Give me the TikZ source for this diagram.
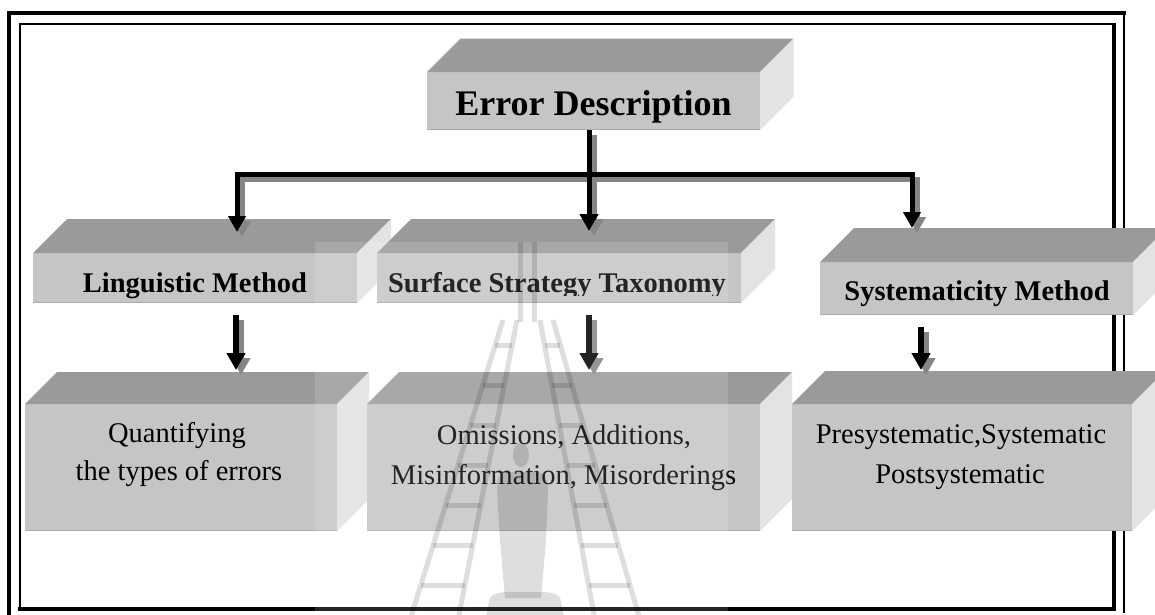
\documentclass[tikz,border=0pt]{standalone}
\usepackage{fontspec}
\setmainfont{Liberation Serif}
\usetikzlibrary{arrows.meta,calc}
\definecolor{topface}{HTML}{9A9A9A}
\definecolor{frontface}{HTML}{C5C5C5}
\definecolor{sideface}{HTML}{E3E3E3}
\definecolor{rimline}{HTML}{ABABAB}
\definecolor{shadowgray}{HTML}{858585}
\tikzset{
  front/.style={fill=frontface, draw=none, inner sep=0pt, outer sep=0pt},
  head/.style={font=\bfseries\fontsize{28.5}{30}\selectfont, anchor=base, inner sep=0pt},
  body/.style={font=\fontsize{28.5}{30}\selectfont, anchor=base, inner sep=0pt, text=black},
  link/.style={line width=5pt, black, line join=miter},
  linkshadow/.style={line width=5pt, shadowgray, line join=miter, transform canvas={shift={(5pt,-5pt)}}},
  tiptop/.style={{Triangle[width=17pt,length=16pt]}-{Triangle[width=17pt,length=16pt]}},
  tipone/.style={-{Triangle[width=18pt,length=17pt]}},
  sealmark/.style={black, opacity=0.13}
}
% a bevelled block: name, centre x, centre y, front width, front height, depth
\newcommand\blockthree[6]{%
  \node[front, minimum width=#4pt, minimum height=#5pt] (#1) at (#2,#3) {};
  \fill[topface] (#1.north west) -- ([shift={(#6,-#6)}]#1.north west)
    -- ([shift={(#6,-#6)}]#1.north east) -- (#1.north east) -- cycle;
  \fill[sideface] (#1.north east) -- ([shift={(#6,-#6)}]#1.north east)
    -- ([shift={(#6,-#6)}]#1.south east) -- (#1.south east) -- cycle;
  \draw[rimline, line width=1.5pt] ([yshift=0.75pt]#1.south west) -- ([yshift=0.75pt]#1.south east);
}
\begin{document}
\begin{tikzpicture}[x=1pt,y=-1pt]
\useasboundingbox (0,0) rectangle (1155,614);
\clip (0,0) rectangle (1155,614);
\fill[white] (0,0) rectangle (1155,614);

% double page frame
\draw[line width=4pt] (9,616) -- (9,13) -- (1126,13);
\draw[line width=2pt] (1124,13) -- (1124,613);
\draw[line width=2pt] (20,609) -- (20,24) -- (1116,24);
\draw[line width=4pt] (1114,24) -- (1114,609) -- (18,609);

% blocks
\blockthree{err}{593.5}{101}{333}{58}{33.5}
\node[head, font=\bfseries\fontsize{36}{38}\selectfont] (errT) at (593.5,115) {Error Description};

\blockthree{ling}{195}{278}{324}{50}{34}
\blockthree{surf}{559}{278}{364}{50}{34}
\blockthree{syst}{976.5}{288.5}{313}{53}{34}

\node[head] (lingT) at (195,292) {Linguistic Method};
\begin{scope}
  \clip (surf.north west) rectangle ([yshift=8pt]surf.south east);
  \node[head] (surfT) at (557,292) {Surface Strategy Taxonomy};
\end{scope}
\node[head] (systT) at (977,300) {Systematicity Method};

\blockthree{quant}{181}{467.5}{312}{127}{32}
\blockthree{omis}{563.5}{467.5}{393}{127}{32}
\blockthree{presys}{962}{467.5}{340}{127}{33}

\node[body] (quant1) at (177,442) {Quantifying};
\node[body] (quant2) at (179,480) {the types of errors};
\node[body] (omis1) at (564,444) {Omissions, Additions,};
\node[body] (omis2) at (563.5,484) {Misinformation, Misorderings};
\node[body] (presys1) at (961,443) {Presystematic,Systematic};
\node[body] (presys2) at (960,483) {Postsystematic};

% branch connectors
\coordinate (hub) at (589,174);
\coordinate (bl) at (237,174);
\coordinate (br) at (912,174);
\draw[linkshadow] (hub |- err.south) -- (hub);
\draw[linkshadow, tiptop] (237,232) -- (bl) -- (br) -- (912,228);
\draw[linkshadow, tipone] (hub) -- (589,231);
\draw[link] (hub |- err.south) -- (hub);
\draw[link, tiptop] (237,232) -- (bl) -- (br) -- (912,228);
\draw[link, tipone] (hub) -- (589,231);

\foreach \a/\b/\dx/\ex in {ling/quant/41/55, surf/omis/30/25.5, syst/presys/-55.5/-41}{
  \draw[linkshadow, line width=6pt, tipone] ([xshift=\dx pt,yshift=-12pt]\a.south) -- ([xshift=\ex pt,yshift=34pt]\b.north);
  \draw[link, line width=6pt, tipone] ([xshift=\dx pt,yshift=-12pt]\a.south) -- ([xshift=\ex pt,yshift=34pt]\b.north);
}

% faint seal in the background
\fill[white, opacity=0.14] (315,242) rectangle (728,614);
\draw[sealmark, line width=5pt] (520,242) -- (520,322) (534,242) -- (534,322);
\draw[sealmark, line width=5pt]
  (503,320) -- (410,620) (517,320) -- (458,620)
  (540,320) -- (595,620) (553,320) -- (640,620);
\draw[sealmark, line width=5pt]
  \foreach \y in {345,385,425,465,505,545,585}{
    ({503-(\y-320)*0.31},\y) -- ({517-(\y-320)*0.197},\y)
    ({540+(\y-320)*0.183},\y) -- ({553+(\y-320)*0.29},\y)
  };
\fill[sealmark] (521,455) ellipse (8 and 12);
\fill[sealmark] (506,472) -- (537,472) to[out=0,in=90] (548,490) -- (546,540)
  -- (541,598) -- (505,598) -- (500,540) -- (497,490) to[out=90,in=180] (506,472) -- cycle;
\fill[sealmark] (486,616) -- (489,602) to[out=90,in=180] (510,592) -- (540,592)
  to[out=0,in=90] (561,602) -- (564,616) -- cycle;
\end{tikzpicture}
\end{document}
